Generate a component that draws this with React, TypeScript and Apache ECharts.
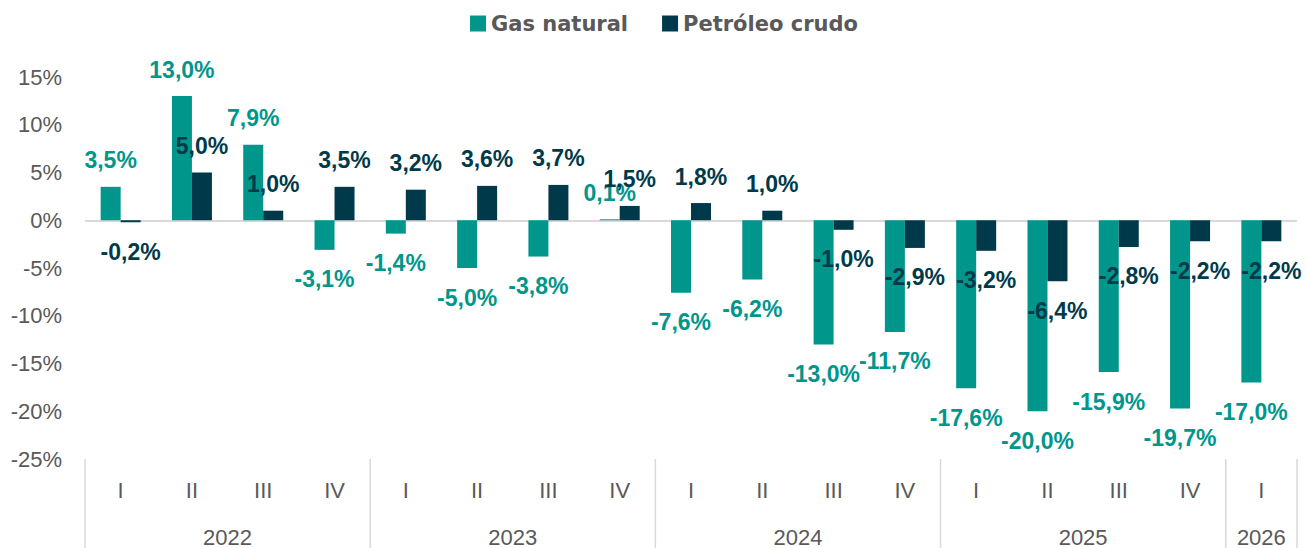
import React, { useEffect, useRef } from "react";
import * as echarts from "echarts";

const quarters = ["I", "II", "III", "IV", "I", "II", "III", "IV", "I", "II", "III", "IV", "I", "II", "III", "IV", "I"];
const years = ["2022", "2023", "2024", "2025", "2026"];
const quartersPerYear = [4, 4, 4, 4, 1];
const gasNatural = [3.5, 13.0, 7.9, -3.1, -1.4, -5.0, -3.8, 0.1, -7.6, -6.2, -13.0, -11.7, -17.6, -20.0, -15.9, -19.7, -17.0];
const petroleoCrudo = [-0.2, 5.0, 1.0, 3.5, 3.2, 3.6, 3.7, 1.5, 1.8, 1.0, -1.0, -2.9, -3.2, -6.4, -2.8, -2.2, -2.2];
const yMin = -25;
const yMax = 15;
const yInterval = 5;

const TEAL = "#00968C";
const DARK = "#003A4A";
const GREY = "#595959";
const LINE = "#D9D9D9";
const LABEL_FONT = "Liberation Sans";
const LEGEND_FONT = "DejaVu Sans";
const AXIS_FONT = "Liberation Sans";

const fmt = (v: number) => v.toFixed(1).replace(".", ",") + "%";

const makeData = (arr: number[], color: string) =>
  arr.map((v) => ({
    value: v,
    label: {
      show: true,
      position: v >= 0 ? "top" : "bottom",
      distance: v >= 0 ? 15 : 18,
      formatter: () => fmt(v),
      color,
      fontFamily: LABEL_FONT,
      fontWeight: "bold",
      fontSize: 23,
    },
  }));

export default function App() {
  const ref = useRef<HTMLDivElement>(null);
  useEffect(() => {
    if (!ref.current) return;
    const chart = echarts.init(ref.current, null, { renderer: "svg" });
    const option: any = {
      animation: false,
      backgroundColor: "#FFFFFF",
      legend: {
        top: 8,
        left: 465,
        itemWidth: 16,
        itemHeight: 16,
        itemGap: 34,
        icon: "rect",
        textStyle: { color: GREY, fontFamily: LEGEND_FONT, fontWeight: "bold", fontSize: 21 },
        data: ["Gas natural", "Petróleo crudo"],
      },
      grid: { left: 85, right: 9, top: 77, bottom: 89, containLabel: false },
      xAxis: {
        type: "category",
        data: quarters,
        axisLine: { show: false },
        axisTick: { show: false },
        axisLabel: { margin: 20, color: GREY, fontFamily: AXIS_FONT, fontSize: 22, interval: 0 },
        splitLine: { show: false },
      },
      yAxis: {
        type: "value",
        min: yMin,
        max: yMax,
        interval: yInterval,
        axisLine: { show: false },
        axisTick: { show: false },
        splitLine: { show: false },
        axisLabel: {
          margin: 23,
          color: GREY,
          fontFamily: AXIS_FONT,
          fontSize: 22,
          formatter: (v: number) => `${v}%`,
        },
      },
      series: [
        {
          name: "Gas natural",
          type: "bar",
          barWidth: 20,
          barGap: "0%",
          itemStyle: { color: TEAL },
          data: makeData(gasNatural, TEAL),
          z: 3,
          markLine: {
            silent: true,
            symbol: "none",
            label: { show: false },
            lineStyle: { color: LINE, width: 2, type: "solid" },
            data: [{ yAxis: 0 }],
            z: 1,
          },
        },
        {
          name: "Petróleo crudo",
          type: "bar",
          barWidth: 20,
          barGap: "0%",
          itemStyle: { color: DARK },
          data: makeData(petroleoCrudo, DARK),
          z: 3,
        },
      ],
    };
    chart.setOption(option);

    const x0 = chart.convertToPixel({ xAxisIndex: 0 }, 0) as number;
    const x1 = chart.convertToPixel({ xAxisIndex: 0 }, 1) as number;
    const band = x1 - x0;
    const yBottom = chart.convertToPixel({ yAxisIndex: 0 }, yMin) as number;
    const elements: any[] = [];
    let idx = 0;
    years.forEach((yr, k) => {
      const n = quartersPerYear[k];
      const left = x0 + (idx - 0.5) * band;
      const right = left + n * band;
      elements.push({
        type: "line",
        shape: { x1: left, y1: yBottom, x2: left, y2: 548 },
        style: { stroke: LINE, lineWidth: 1.5 },
        silent: true,
      });
      if (k === years.length - 1) {
        elements.push({
          type: "line",
          shape: { x1: right, y1: yBottom, x2: right, y2: 548 },
          style: { stroke: LINE, lineWidth: 1.5 },
          silent: true,
        });
      }
      elements.push({
        type: "text",
        x: (left + right) / 2,
        y: yBottom + 78,
        style: {
          text: yr,
          fill: GREY,
          fontFamily: AXIS_FONT,
          fontSize: 22,
          align: "center",
          verticalAlign: "middle",
          textAlign: "center",
          textVerticalAlign: "middle",
        },
        silent: true,
      });
      idx += n;
    });
    chart.setOption({ graphic: elements });
    return () => chart.dispose();
  }, []);
  return (
    <div
      ref={ref}
      style={{ position: "fixed", left: 0, top: 0, width: 1306, height: 548, background: "#fff" }}
    />
  );
}
